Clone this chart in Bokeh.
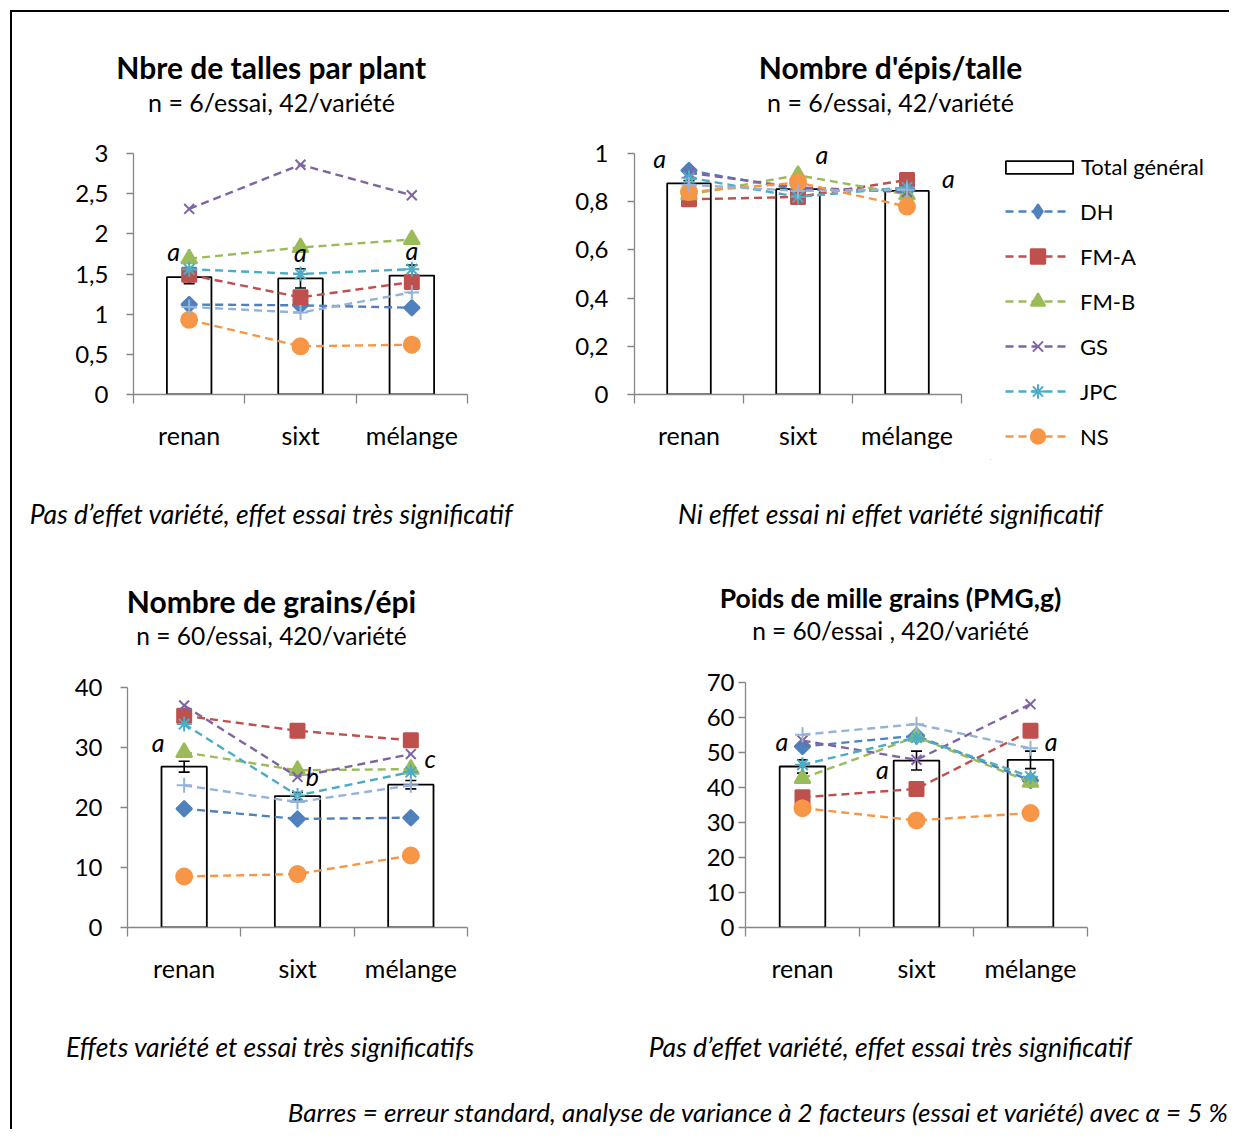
import numpy as np
from bokeh.plotting import figure
from bokeh.models import (Range1d, FixedTicker, Label, Legend, LegendItem,
                          CustomJSTickFormatter)
from bokeh.layouts import row, column
from bokeh.embed import file_html
from bokeh.resources import INLINE
from bokeh.core.properties import value

# ---------------- data ----------------
categories = ["renan", "sixt", "mélange"]
varieties = ["DH", "FM-A", "FM-B", "GS", "JPC", "NS", "autre"]

# Panel 1 : Nbre de talles par plant
talles_total = [1.46, 1.445, 1.48]
talles_se = [0.08, 0.12, 0.13]
talles_DH = [1.12, 1.11, 1.08]
talles_FMA = [1.49, 1.21, 1.40]
talles_FMB = [1.69, 1.83, 1.93]
talles_GS = [2.31, 2.86, 2.48]
talles_JPC = [1.56, 1.50, 1.56]
talles_NS = [0.93, 0.60, 0.62]
talles_autre = [1.09, 1.02, 1.27]
talles_letters = ["a", "a", "a"]

# Panel 2 : Nombre d'épis/talle
epis_total = [0.876, 0.852, 0.845]
epis_se = [0.012, 0.012, 0.012]
epis_DH = [0.93, 0.85, 0.85]
epis_FMA = [0.81, 0.82, 0.89]
epis_FMB = [0.83, 0.91, 0.83]
epis_GS = [0.92, 0.86, 0.84]
epis_JPC = [0.90, 0.82, 0.86]
epis_NS = [0.84, 0.88, 0.78]
epis_autre = [0.87, 0.845, 0.85]
epis_letters = ["a", "a", "a"]

# Panel 3 : Nombre de grains/épi
grains_total = [26.8, 21.9, 23.8]
grains_se = [0.9, 0.6, 0.7]
grains_DH = [19.8, 18.1, 18.3]
grains_FMA = [35.3, 32.8, 31.2]
grains_FMB = [29.2, 26.2, 26.4]
grains_GS = [37.0, 25.1, 28.9]
grains_JPC = [33.9, 22.0, 25.9]
grains_NS = [8.5, 8.9, 12.0]
grains_autre = [23.7, 20.9, 23.7]
grains_letters = ["a", "b", "c"]

# Panel 4 : Poids de mille grains
pmg_total = [46.0, 47.7, 47.9]
pmg_se = [1.9, 2.7, 2.5]
pmg_DH = [51.7, 54.8, 42.0]
pmg_FMA = [37.2, 39.6, 56.2]
pmg_FMB = [42.6, 54.5, 41.5]
pmg_GS = [53.4, 47.9, 63.8]
pmg_JPC = [46.5, 54.3, 43.1]
pmg_NS = [34.1, 30.6, 32.7]
pmg_autre = [55.1, 58.1, 51.2]
pmg_letters = ["a", "a", "a"]

# ---------------- styles ----------------
FONT = "Lato"
AX = "#868686"
COLORS = ["#4F81BD", "#C0504D", "#9BBB59", "#8064A2", "#4BACC6", "#F79646", "#95B3D7"]
MARKERS = [("square", 11, np.pi / 4), ("square", 14, 0), ("triangle", 16, 0),
           ("x", 14, 0), ("asterisk", 15, 0), ("circle", 16, 0), ("cross", 15, 0)]
KEY_MARKERS = ["diamond", "square", "triangle", "x", "asterisk", "circle"]
DASH = "8 5"
OX = 12  # page x of layout content


def make_fig(w, h, left, right, top, bottom, ymax, yticks, ystand, ytop=None):
    p = figure(width=w, height=h, x_range=Range1d(0, 3),
               y_range=Range1d(0, ytop if ytop else ymax),
               output_backend="svg", toolbar_location=None, frame_align=False,
               min_border_left=left, min_border_right=right,
               min_border_top=top, min_border_bottom=bottom)
    p.outline_line_color = None
    p.grid.visible = False
    xa = p.xaxis[0]
    xa.ticker = FixedTicker(ticks=[0.5, 1.5, 2.5], minor_ticks=[0, 1, 2, 3])
    xa.formatter = CustomJSTickFormatter(args=dict(cats=categories),
                                         code="return cats[Math.floor(tick)];")
    xa.major_tick_out = 0
    xa.major_tick_in = 0
    xa.minor_tick_out = 9
    xa.minor_tick_in = 0
    xa.minor_tick_line_color = AX
    xa.minor_tick_line_width = 1.3
    xa.axis_line_color = AX
    xa.axis_line_width = 1.3
    xa.major_label_standoff = 16
    xa.major_label_text_font = FONT
    xa.major_label_text_font_size = "25px"
    xa.major_label_text_color = "black"
    ya = p.yaxis[0]
    ya.ticker = FixedTicker(ticks=yticks)
    ya.formatter = CustomJSTickFormatter(code="return tick.toString().replace('.', ',');")
    ya.bounds = (0, ymax)
    ya.major_tick_out = 7
    ya.major_tick_in = 0
    ya.minor_tick_out = 0
    ya.minor_tick_in = 0
    ya.major_tick_line_color = AX
    ya.major_tick_line_width = 1.3
    ya.axis_line_color = AX
    ya.axis_line_width = 1.3
    ya.major_label_standoff = ystand
    ya.major_label_text_font = FONT
    ya.major_label_text_font_size = "24px"
    ya.major_label_text_color = "black"
    return p


def fill_panel(p, totals, se, series, letters, ldx, ly):
    xs = [i + 0.5 for i in range(len(categories))]
    p.vbar(x=xs, top=totals, width=0.4, fill_color="white",
           line_color="black", line_width=1.8)
    up = [t + s for t, s in zip(totals, se)]
    lo = [t - s for t, s in zip(totals, se)]
    p.segment(x0=xs, y0=lo, x1=xs, y1=up, line_color="black", line_width=1.6)
    p.scatter(x=xs + xs, y=up + lo, marker="dash", size=11, line_color="black",
              line_width=1.6)
    for vals, color, (mk, sz, ang) in zip(series, COLORS, MARKERS):
        p.line(xs, vals, line_color=color, line_width=2.4, line_dash=DASH)
        p.scatter(xs, vals, marker=mk, size=sz, angle=ang, fill_color=color,
                  line_color=color, line_width=2)
    p.text(x=[x + d for x, d in zip(xs, ldx)], y=ly, text=letters,
           text_font=value(FONT), text_font_style="italic", text_font_size="25px",
           text_align="center", text_baseline="middle", text_color="black")


def text_strip(w, h):
    s = figure(width=w, height=h, x_range=Range1d(0, 1), y_range=Range1d(0, 1),
               output_backend="svg", toolbar_location=None, frame_align=False,
               x_axis_location=None, y_axis_location=None,
               min_border_left=0, min_border_right=0, min_border_top=0, min_border_bottom=0)
    s.outline_line_color = None
    s.grid.visible = False
    return s


def add_label(p, fl, fb, px, py, text, size, style="normal", align="center"):
    # fl, fb: page coordinates of the frame's left and bottom edges
    p.add_layout(Label(x=px - fl, y=fb - py, x_units="screen", y_units="screen",
                       text=text, text_font=FONT, text_font_size=size,
                       text_font_style=style, text_align=align,
                       text_baseline="middle", text_color="black"))


W = 1217
# ---- strip 1 : titles top (page y 12..130)
s1 = text_strip(W, 118)
add_label(s1, OX, 130, 271, 66, "Nbre de talles par plant", "30px", "bold")
add_label(s1, OX, 130, 271, 101, "n = 6/essai, 42/variété", "25px")
add_label(s1, OX, 130, 890, 66, "Nombre d'épis/talle", "30px", "bold")
add_label(s1, OX, 130, 890, 101, "n = 6/essai, 42/variété", "25px")

# ---- row of plots 1 (page y 130..460)
pA = make_fig(530, 330, 121, 75, 23, 66, 3, [0, 0.5, 1, 1.5, 2, 2.5, 3], 18)
fill_panel(pA, talles_total, talles_se,
           [talles_DH, talles_FMA, talles_FMB, talles_GS, talles_JPC, talles_NS, talles_autre],
           talles_letters, [-0.14, 0.0, 0.0], [1.79, 1.78, 1.80])

pB = make_fig(448, 330, 92, 29, 11, 66, 1, [0, 0.2, 0.4, 0.6, 0.8, 1], 19, ytop=1.05)
fill_panel(pB, epis_total, epis_se,
           [epis_DH, epis_FMA, epis_FMB, epis_GS, epis_JPC, epis_NS, epis_autre],
           epis_letters, [-0.27, 0.22, 0.38], [0.98, 0.998, 0.90])

# legend panel (page x 990..1229, y 130..460); key glyphs sit outside the visible range
pL = text_strip(239, 330)
kx, ky = [-5], [-5]
bar_key = pL.vbar(x=kx, top=ky, width=0.4, fill_color="white", line_color="black",
                  line_width=1.8)
items = []
for name, color, mk in zip(varieties[:6], COLORS, KEY_MARKERS):
    rl = pL.line(x=kx, y=ky, line_color=color, line_width=2.4, line_dash=DASH)
    rm = pL.scatter(x=kx, y=ky, marker=mk, fill_color=color,
                    line_color=color, line_width=2)
    items.append(LegendItem(label=name, renderers=[rl, rm]))
leg1 = Legend(items=[LegendItem(label="Total général", renderers=[bar_key])],
              location=(7, 280), glyph_width=84, glyph_height=16, label_height=16,
              label_standoff=0, padding=0, margin=0, border_line_color=None,
              background_fill_alpha=0, label_text_font=FONT, label_text_font_size="22px",
              label_text_color="black")
leg2 = Legend(items=items, location=(15, 6), glyph_width=65, glyph_height=36,
              label_height=36, spacing=9, label_standoff=10, padding=0, margin=0,
              border_line_color=None, background_fill_alpha=0,
              label_text_font=FONT, label_text_font_size="22px", label_text_color="black")
pL.add_layout(leg1)
pL.add_layout(leg2)

# ---- strip 2 : captions top + titles bottom (page y 460..660)
s2 = text_strip(W, 200)
add_label(s2, OX, 660, 271, 513, "Pas d’effet variété, effet essai très significatif", "26.5px", "italic")
add_label(s2, OX, 660, 890, 513, "Ni effet essai ni effet variété significatif", "26.5px", "italic")
add_label(s2, OX, 660, 271, 600, "Nombre de grains/épi", "30px", "bold")
add_label(s2, OX, 660, 271, 635, "n = 60/essai, 420/variété", "24.5px")
add_label(s2, OX, 660, 890, 597, "Poids de mille grains (PMG,g)", "26.5px", "bold")
add_label(s2, OX, 660, 890, 630, "n = 60/essai , 420/variété", "24.5px")

# ---- row of plots 2 (page y 660..995)
pC = make_fig(530, 335, 115, 75, 27, 68, 40, [0, 10, 20, 30, 40], 18)
fill_panel(pC, grains_total, grains_se,
           [grains_DH, grains_FMA, grains_FMB, grains_GS, grains_JPC, grains_NS, grains_autre],
           grains_letters, [-0.23, 0.13, 0.17], [31.0, 25.3, 28.3])

pD = make_fig(687, 335, 203, 142, 22, 68, 70, [0, 10, 20, 30, 40, 50, 60, 70], 4)
fill_panel(pD, pmg_total, pmg_se,
           [pmg_DH, pmg_FMA, pmg_FMB, pmg_GS, pmg_JPC, pmg_NS, pmg_autre],
           pmg_letters, [-0.18, -0.30, 0.18], [53.4, 45.4, 53.4])

# ---- strip 3 : captions bottom + footer (page y 995..1129)
s3 = text_strip(W, 134)
add_label(s3, OX, 1129, 270, 1046, "Effets variété et essai très significatifs", "26.5px", "italic")
add_label(s3, OX, 1129, 890, 1046, "Pas d’effet variété, effet essai très significatif", "26.5px", "italic")
add_label(s3, OX, 1129, 1229, 1111,
          "Barres = erreur standard, analyse de variance à 2 facteurs (essai et variété) avec α = 5 %",
          "26px", "italic", "right")

layout = column(s1, row(pA, pB, pL), s2, row(pC, pD), s3,
                styles={"border-left": "2px solid black", "border-top": "2px solid black"},
                margin=(10, 0, 0, 10))

open("out.html", "w").write(file_html(layout, INLINE))
